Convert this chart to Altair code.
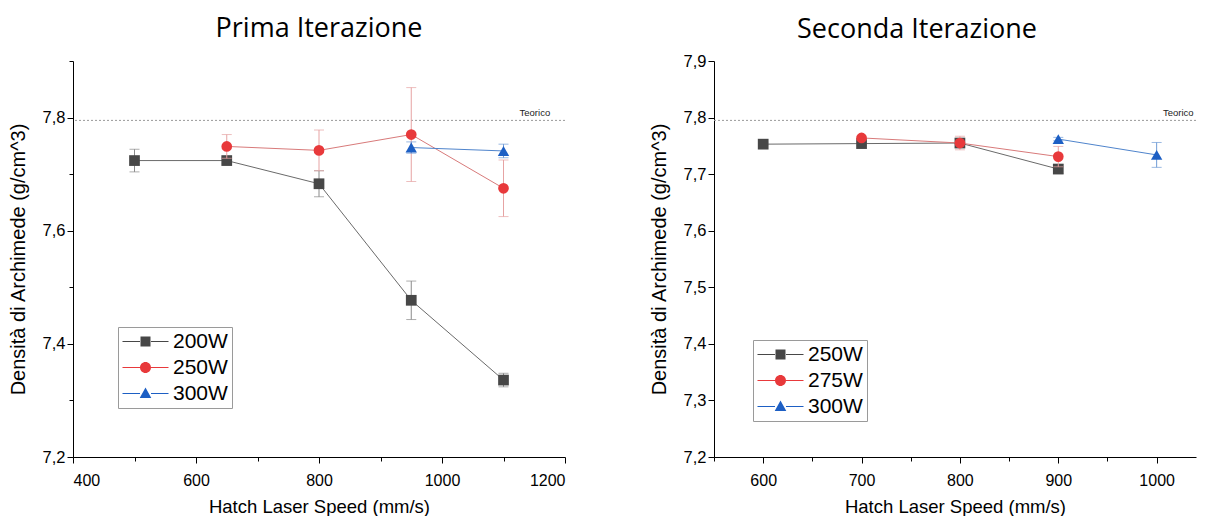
import altair as alt
import pandas as pd

# ---------------- Prima Iterazione ----------------
p1_series = ["200W", "250W", "300W"]
p1_speed_200 = [500, 650, 800, 950, 1100]
p1_dens_200 = [7.724, 7.724, 7.683, 7.477, 7.336]
p1_err_200 = [0.020, 0.006, 0.023, 0.034, 0.012]
p1_speed_250 = [650, 800, 950, 1100]
p1_dens_250 = [7.749, 7.742, 7.770, 7.675]
p1_err_250 = [0.021, 0.036, 0.083, 0.050]
p1_speed_300 = [950, 1100]
p1_dens_300 = [7.747, 7.741]
p1_err_300 = [0.010, 0.012]

# ---------------- Seconda Iterazione ----------------
p2_series = ["250W", "275W", "300W"]
p2_speed_250 = [600, 700, 800, 900]
p2_dens_250 = [7.753, 7.754, 7.755, 7.709]
p2_err_250 = [0.002, 0.003, 0.008, 0.008]
p2_speed_275 = [700, 800, 900]
p2_dens_275 = [7.764, 7.755, 7.731]
p2_err_275 = [0.003, 0.012, 0.018]
p2_speed_300 = [900, 1000]
p2_dens_300 = [7.762, 7.734]
p2_err_300 = [0.003, 0.022]

teorico = 7.795
teorico_label = "Teorico"

titles = ["Prima Iterazione", "Seconda Iterazione"]
x_title = "Hatch Laser Speed (mm/s)"
y_title = "Densità di Archimede (g/cm^3)"

p1_xticks = [400, 500, 600, 700, 800, 900, 1000, 1100, 1200]
p2_xticks = [550, 600, 650, 700, 750, 800, 850, 900, 950, 1000]
p1_yticks = [7.2, 7.3, 7.4, 7.5, 7.6, 7.7, 7.8, 7.9]
p2_yticks = [7.2, 7.25, 7.3, 7.35, 7.4, 7.45, 7.5, 7.55, 7.6, 7.65, 7.7, 7.75, 7.8, 7.85, 7.9]

MARK_COLORS = ["#474747", "#e8393b", "#1d5fc4"]
LINE_COLORS = ["#6a6a6a", "#d87a7a", "#4f84cc"]
ERR_COLORS = ["#8a8a8a", "#e6a3a3", "#6f9bd6"]
SHAPES = ["square", "circle", "triangle-up"]

# legend symbols: line with marker (custom SVG paths)
LINE_PART = "M-2.3,-0.05H-0.55V0.05H-2.3Z M0.55,-0.05H2.3V0.05H0.55Z "
LEG_PATHS = [
    LINE_PART + "M-0.5,-0.5H0.5V0.5H-0.5Z",
    LINE_PART + "M-0.55,0A0.55,0.55,0,1,0,0.55,0A0.55,0.55,0,1,0,-0.55,0Z",
    LINE_PART + "M0,-0.6L0.58,0.45H-0.58Z",
]


def frame(series, speeds, dens, errs):
    rows = []
    for s, sp, de, er in zip(series, speeds, dens, errs):
        for a, b, c in zip(sp, de, er):
            rows.append({"series": s, "speed": a, "dens": b, "lo": b - c, "hi": b + c})
    return pd.DataFrame(rows)


def panel(df, series, title, xdomain, xticks, xmod, yticks, ymod, width, teorico_x,
          leg_x, leg_y, title_offset, title_dx):
    xs = alt.Scale(domain=xdomain, nice=False, zero=False)
    ys = alt.Scale(domain=[7.2, 7.9], nice=False, zero=False)
    xaxis = alt.Axis(
        values=xticks, title=x_title, grid=False,
        labelExpr=f"datum.value % {xmod} == 0 ? datum.value : ''",
        tickSize={"condition": {"test": f"datum.value % {xmod} == 0", "value": 6}, "value": 4},
        labelFontSize=16, titleFontSize=18.5, labelPadding=9, titlePadding=9,
        labelFont="Liberation Sans", titleFont="Liberation Sans",
        domainColor="#000", tickColor="#000", labelColor="#000", titleColor="#000",
        titleFontWeight="normal",
    )
    yaxis = alt.Axis(
        values=yticks, title=y_title, grid=False,
        labelExpr=f"abs(round(datum.value*{ymod})) % 2 == 0 ? replace(format(datum.value, '.1f'), '.', ',') : ''",
        tickSize={"condition": {"test": f"abs(round(datum.value*{ymod})) % 2 == 0", "value": 6}, "value": 4},
        labelFontSize=16.5, titleFontSize=20, labelPadding=2, titlePadding=14,
        labelFont="Liberation Sans", titleFont="Liberation Sans",
        domainColor="#000", tickColor="#000", labelColor="#000", titleColor="#000",
        titleFontWeight="normal",
    )
    layers = []
    ref = pd.DataFrame({"y": [teorico]})
    layers.append(
        alt.Chart(ref).mark_rule(color="#9a9a9a", strokeDash=[2, 2], strokeWidth=1)
        .encode(y=alt.Y("y:Q", scale=ys, axis=yaxis))
    )
    lab = pd.DataFrame({"x": [teorico_x], "y": [teorico], "t": [teorico_label]})
    layers.append(
        alt.Chart(lab).mark_text(dy=-7, fontSize=9.5, font="Liberation Sans", color="#222")
        .encode(x=alt.X("x:Q", scale=xs, axis=xaxis), y=alt.Y("y:Q", scale=ys), text="t:N")
    )
    for i, s in enumerate(series):
        d = df[df.series == s]
        base = alt.Chart(d)
        layers.append(base.mark_line(color=LINE_COLORS[i], strokeWidth=1).encode(
            x=alt.X("speed:Q", scale=xs), y=alt.Y("dens:Q", scale=ys)))
        layers.append(base.mark_rule(color=ERR_COLORS[i], strokeWidth=1).encode(
            x=alt.X("speed:Q", scale=xs), y=alt.Y("lo:Q", scale=ys), y2="hi:Q"))
        for col in ["lo", "hi"]:
            layers.append(base.mark_tick(color=ERR_COLORS[i], orient="horizontal", size=10, thickness=1).encode(
                x=alt.X("speed:Q", scale=xs), y=alt.Y(f"{col}:Q", scale=ys)))
        layers.append(base.mark_point(shape=SHAPES[i], color=MARK_COLORS[i], filled=True,
                                      size=115 if i != 2 else 130, opacity=1).encode(
            x=alt.X("speed:Q", scale=xs), y=alt.Y("dens:Q", scale=ys)))
    # legend layer (no marks drawn, legend only)
    layers.append(
        alt.Chart(df).transform_filter("false").mark_point(filled=True, opacity=1).encode(
            x=alt.X("speed:Q", scale=xs), y=alt.Y("dens:Q", scale=ys),
            color=alt.Color("series:N", scale=alt.Scale(domain=series, range=MARK_COLORS),
                            legend=alt.Legend(
                                title=None, orient="none", legendX=leg_x, legendY=leg_y,
                                symbolSize=400, symbolOpacity=1, symbolStrokeWidth=0,
                                symbolOffset=13, labelOffset=17,
                                labelFontSize=21, labelFont="Liberation Sans", labelColor="#000",
                                strokeColor="#9a9a9a", padding=4, rowPadding=4,
                                fillColor="white")),
            shape=alt.Shape("series:N", scale=alt.Scale(domain=series, range=LEG_PATHS)),
        )
    )
    return alt.layer(*layers).properties(
        width=width, height=396,
        title=alt.TitleParams(title, fontSize=27, font="Open Sans", fontWeight="normal",
                              color="#000", offset=title_offset, anchor="middle", dx=title_dx),
    )


df1 = frame(p1_series, [p1_speed_200, p1_speed_250, p1_speed_300],
            [p1_dens_200, p1_dens_250, p1_dens_300], [p1_err_200, p1_err_250, p1_err_300])
df2 = frame(p2_series, [p2_speed_250, p2_speed_275, p2_speed_300],
            [p2_dens_250, p2_dens_275, p2_dens_300], [p2_err_250, p2_err_275, p2_err_300])

left = panel(df1, p1_series, titles[0], [400, 1200], p1_xticks, 200, p1_yticks, 10, 492, 1151,
             45, 266, 18, 0)
right = panel(df2, p2_series, titles[1], [550, 1040], p2_xticks, 100, p2_yticks, 20, 482, 1022,
              39, 279, 9, -38)

chart = alt.hconcat(left, right, spacing=83).resolve_scale(color="independent", shape="independent").configure_view(
    stroke=None
).properties(padding={"left": 0, "top": 6, "right": 0, "bottom": 0})

chart.save("out.html", embed_options={"renderer": "svg", "actions": False})
